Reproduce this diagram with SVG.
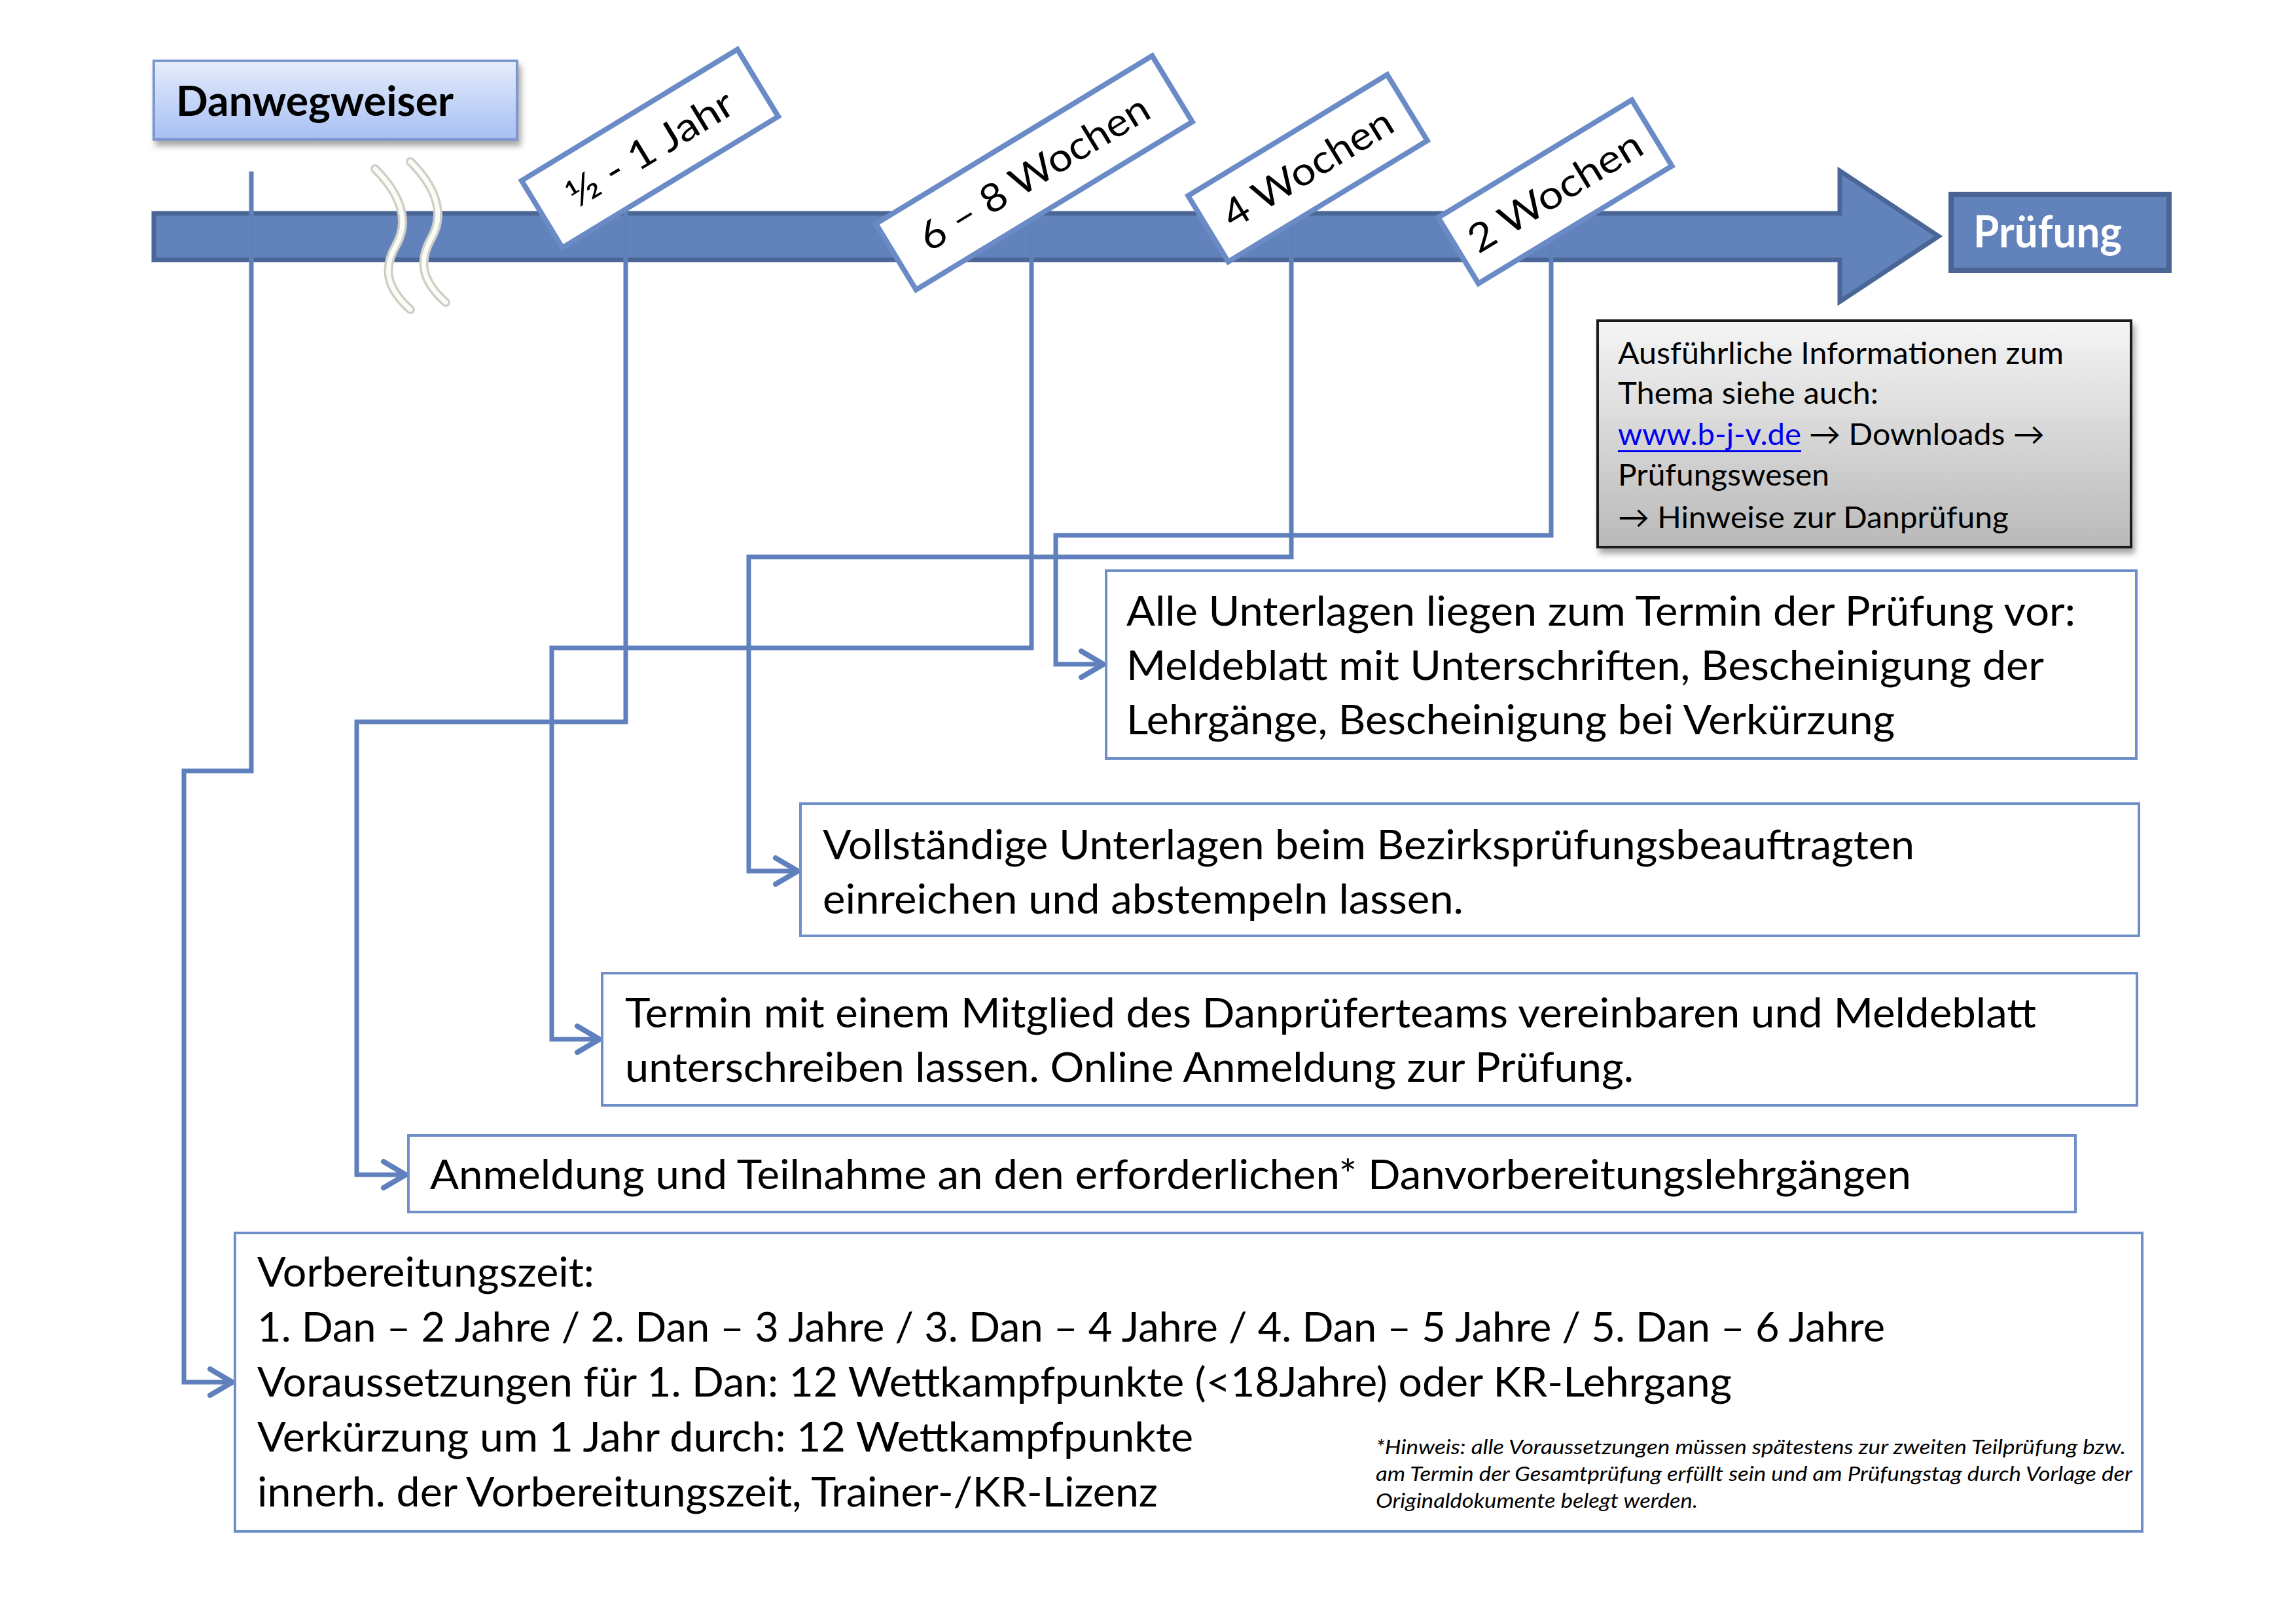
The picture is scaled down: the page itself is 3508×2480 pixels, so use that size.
<svg xmlns="http://www.w3.org/2000/svg" width="3508" height="2480" viewBox="0 0 3508 2480">
<defs>
<linearGradient id="gBlue" x1="0" y1="0" x2="0" y2="1">
<stop offset="0" stop-color="#e6edfc"/>
<stop offset="1" stop-color="#a6bff3"/>
</linearGradient>
<linearGradient id="gGray" x1="0" y1="0" x2="0" y2="1">
<stop offset="0" stop-color="#f5f5f5"/>
<stop offset="1" stop-color="#b9b9b9"/>
</linearGradient>
<filter id="shadow" x="-10%" y="-10%" width="130%" height="140%">
<feDropShadow dx="4" dy="8" stdDeviation="5" flood-color="#000" flood-opacity="0.35"/>
</filter>
<marker id="arr" markerUnits="userSpaceOnUse" markerWidth="46" markerHeight="50" refX="40" refY="24" orient="auto">
<path d="M6,4 L40,24 L6,44" fill="none" stroke="#5f80bd" stroke-width="8" stroke-linecap="round" stroke-linejoin="round"/>
</marker>
</defs>
<style>
.t{font-family:Lato,"Open Sans","DejaVu Sans",sans-serif;fill:#000}
.body{font-size:61px}
.info{font-size:47px}
.lab{font-size:60px}
.note{font-size:31px;font-style:italic}
.box{fill:#fff;stroke:#6f8fc8;stroke-width:4}
.conn{fill:none;stroke:#5f80bd;stroke-width:7;stroke-linejoin:miter}
.flag{fill:#fff;stroke:#6a8bc6;stroke-width:8;stroke-linejoin:miter}
</style>
<rect width="3508" height="2480" fill="#fff"/>

<g id="timeline">
<polygon points="235,326 2811,326 2811,261 2962,361 2811,461 2811,397 235,397" fill="#6282bc" stroke="#4a6696" stroke-width="7" stroke-linejoin="miter"/>
<path d="M573,258 C615,300 625,340 605,375 C585,410 590,440 627,473" fill="none" stroke="#cfcfc6" stroke-width="14" stroke-linecap="round"/>
<path d="M573,258 C615,300 625,340 605,375 C585,410 590,440 627,473" fill="none" stroke="#fbfbf8" stroke-width="7" stroke-linecap="round"/>
<path d="M627,247 C669,289 679,329 659,364 C639,399 644,429 681,462" fill="none" stroke="#cfcfc6" stroke-width="14" stroke-linecap="round"/>
<path d="M627,247 C669,289 679,329 659,364 C639,399 644,429 681,462" fill="none" stroke="#fbfbf8" stroke-width="7" stroke-linecap="round"/>
</g>

<g id="connectors">
<path class="conn" d="M384,262 V1178 H281 V2112 H355" marker-end="url(#arr)"/>
<path class="conn" d="M956,300 V1103 H545 V1795 H620" marker-end="url(#arr)"/>
<path class="conn" d="M1576,300 V990 H843 V1588 H916" marker-end="url(#arr)"/>
<path class="conn" d="M1973,300 V851 H1144 V1331 H1219" marker-end="url(#arr)"/>
<path class="conn" d="M2370,300 V818 H1613 V1015 H1686" marker-end="url(#arr)"/>
</g>

<g id="danwegweiser">
<rect x="235" y="93" width="555" height="120" fill="url(#gBlue)" stroke="#7b98cf" stroke-width="4" filter="url(#shadow)"/>
<text class="t" x="269" y="177" font-size="64" font-weight="bold" textLength="424" lengthAdjust="spacingAndGlyphs">Danwegweiser</text>
</g>

<g id="label-halbjahr" transform="translate(993,227) rotate(-31.3)">
<rect class="flag" x="-193" y="-60" width="386" height="120"/>
<text class="t lab" x="0" y="21" text-anchor="middle" textLength="288" lengthAdjust="spacingAndGlyphs">½ - 1 Jahr</text>
</g>
<g id="label-6-8wochen" transform="translate(1580,264) rotate(-31.3)">
<rect class="flag" x="-247" y="-59" width="494" height="118"/>
<text class="t lab" x="0" y="21" text-anchor="middle" textLength="400" lengthAdjust="spacingAndGlyphs">6 – 8 Wochen</text>
</g>
<g id="label-4wochen" transform="translate(1998,257) rotate(-31.3)">
<rect class="flag" x="-178" y="-59" width="356" height="118"/>
<text class="t lab" x="0" y="21" text-anchor="middle" textLength="293" lengthAdjust="spacingAndGlyphs">4 Wochen</text>
</g>
<g id="label-2wochen" transform="translate(2376,293) rotate(-31.3)">
<rect class="flag" x="-173" y="-59" width="346" height="118"/>
<text class="t lab" x="0" y="21" text-anchor="middle" textLength="300" lengthAdjust="spacingAndGlyphs">2 Wochen</text>
</g>

<g id="pruefung">
<rect x="2981" y="297" width="333" height="116" fill="#6282bc" stroke="#4a6593" stroke-width="8"/>
<text class="t" x="3015" y="378" font-size="66" font-weight="bold" style="fill:#fff" textLength="227" lengthAdjust="spacingAndGlyphs">Prüfung</text>
</g>

<g id="info">
<rect x="2441" y="490" width="815" height="346" fill="url(#gGray)" stroke="#1e1e1e" stroke-width="4" filter="url(#shadow)"/>
<text class="t info" x="2472" y="556" textLength="681" lengthAdjust="spacingAndGlyphs">Ausführliche Informationen zum</text>
<text class="t info" x="2472" y="617" textLength="398" lengthAdjust="spacingAndGlyphs">Thema siehe auch:</text>
<text class="t info" x="2472" y="680" textLength="280" lengthAdjust="spacingAndGlyphs" style="fill:#0000ee">www.b-j-v.de</text>
<rect x="2472" y="688" width="280" height="3" fill="#0000ee"/>
<text class="t info" x="2764" y="680" textLength="360" lengthAdjust="spacingAndGlyphs">→ Downloads →</text>
<text class="t info" x="2472" y="742" textLength="323" lengthAdjust="spacingAndGlyphs">Prüfungswesen</text>
<text class="t info" x="2472" y="807" textLength="597" lengthAdjust="spacingAndGlyphs">→ Hinweise zur Danprüfung</text>
</g>

<g id="box-unterlagen">
<rect class="box" x="1690" y="872" width="1574" height="287"/>
<text class="t body" x="1721" y="956" textLength="1450" lengthAdjust="spacingAndGlyphs">Alle Unterlagen liegen zum Termin der Prüfung vor:</text>
<text class="t body" x="1721" y="1039" textLength="1402" lengthAdjust="spacingAndGlyphs">Meldeblatt mit Unterschriften, Bescheinigung der</text>
<text class="t body" x="1721" y="1122" textLength="1174" lengthAdjust="spacingAndGlyphs">Lehrgänge, Bescheinigung bei Verkürzung</text>
</g>

<g id="box-bezirk">
<rect class="box" x="1223" y="1228" width="2045" height="202"/>
<text class="t body" x="1257" y="1313" textLength="1668" lengthAdjust="spacingAndGlyphs">Vollständige Unterlagen beim Bezirksprüfungsbeauftragten</text>
<text class="t body" x="1257" y="1396" textLength="979" lengthAdjust="spacingAndGlyphs">einreichen und abstempeln lassen.</text>
</g>

<g id="box-termin">
<rect class="box" x="920" y="1487" width="2345" height="202"/>
<text class="t body" x="955" y="1570" textLength="2156" lengthAdjust="spacingAndGlyphs">Termin mit einem Mitglied des Danprüferteams vereinbaren und Meldeblatt</text>
<text class="t body" x="955" y="1653" textLength="1541" lengthAdjust="spacingAndGlyphs">unterschreiben lassen. Online Anmeldung zur Prüfung.</text>
</g>

<g id="box-lehrgaenge">
<rect class="box" x="624" y="1735" width="2547" height="117"/>
<text class="t body" x="657" y="1817" textLength="2263" lengthAdjust="spacingAndGlyphs">Anmeldung und Teilnahme an den erforderlichen* Danvorbereitungslehrgängen</text>
</g>

<g id="box-vorbereitung">
<rect class="box" x="359" y="1884" width="2914" height="456"/>
<text class="t body" x="393" y="1966" textLength="515" lengthAdjust="spacingAndGlyphs">Vorbereitungszeit:</text>
<text class="t body" x="393" y="2050" textLength="2487" lengthAdjust="spacingAndGlyphs">1. Dan – 2 Jahre / 2. Dan – 3 Jahre / 3. Dan – 4 Jahre / 4. Dan – 5 Jahre / 5. Dan – 6 Jahre</text>
<text class="t body" x="393" y="2134" textLength="2253" lengthAdjust="spacingAndGlyphs">Voraussetzungen für 1. Dan: 12 Wettkampfpunkte (&lt;18Jahre) oder KR-Lehrgang</text>
<text class="t body" x="393" y="2218" textLength="1430" lengthAdjust="spacingAndGlyphs">Verkürzung um 1 Jahr durch: 12 Wettkampfpunkte</text>
<text class="t body" x="393" y="2302" textLength="1376" lengthAdjust="spacingAndGlyphs">innerh. der Vorbereitungszeit, Trainer-/KR-Lizenz</text>
<text class="t note" x="2102" y="2222" textLength="1146" lengthAdjust="spacingAndGlyphs">*Hinweis: alle Voraussetzungen müssen spätestens zur zweiten Teilprüfung bzw.</text>
<text class="t note" x="2102" y="2263" textLength="1156" lengthAdjust="spacingAndGlyphs">am Termin der Gesamtprüfung erfüllt sein und am Prüfungstag durch Vorlage der</text>
<text class="t note" x="2102" y="2304" textLength="492" lengthAdjust="spacingAndGlyphs">Originaldokumente belegt werden.</text>
</g>
</svg>
